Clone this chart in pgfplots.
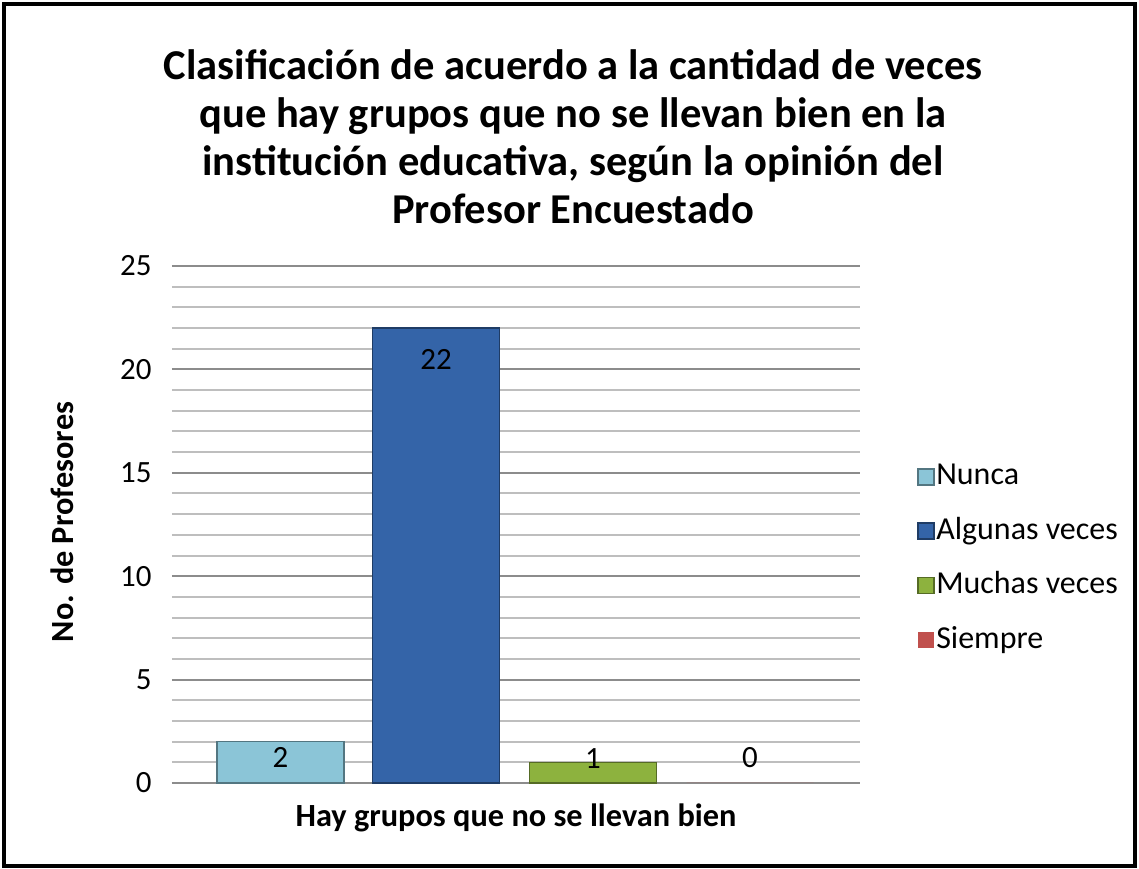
\documentclass[border=0pt]{standalone}
\usepackage{pgfplots}
\pgfplotsset{compat=1.18}
\usepackage{fontspec}
\setmainfont{Carlito}
\definecolor{cNunca}{RGB}{139,197,215}
\definecolor{cAlgunas}{RGB}{52,100,168}
\definecolor{cMuchas}{RGB}{141,178,62}
\definecolor{cSiempre}{RGB}{192,80,77}
\definecolor{gmaj}{RGB}{140,140,140}
\definecolor{gmin}{RGB}{190,190,190}
\begin{document}
\begin{tikzpicture}
\useasboundingbox (0,0) rectangle (113.9mm,86.9mm);
\draw[line width=0.4mm] (0.4mm,0.3mm) rectangle (113.5mm,86.5mm);
\node[font=\bfseries\fontsize{12.1}{13.66}\selectfont, align=center] at (57.3mm,73.2mm)
  {Clasificación de acuerdo a la cantidad de veces\\que hay grupos que no se llevan bien en la\\institución educativa, según la opinión del\\Profesor Encuestado};
\begin{axis}[
  at={(17.2mm,8.6mm)}, anchor=south west,
  scale only axis, width=68.8mm, height=51.7mm,
  ybar, bar shift=0pt, bar width=127,
  xmin=0, xmax=688, ymin=0, ymax=25,
  xtick=\empty, ytick={0,5,...,25},
  minor y tick num=4,
  ymajorgrids, yminorgrids,
  major grid style={gmaj, line width=0.2mm},
  minor grid style={gmin, line width=0.2mm},
  axis x line=bottom, axis y line=left,
  axis line style={-},
  x axis line style={gmaj, line width=0.25mm},
  y axis line style={draw=none},
  major tick length=0pt, minor tick length=0pt,
  tick label style={font=\fontsize{8.8}{10}\selectfont},
  yticklabel style={xshift=-0.8mm},
  /pgf/number format/assume math mode=true,
  xlabel={Hay grupos que no se llevan bien},
  ylabel={No. de Profesores},
  label style={font=\bfseries\fontsize{9.2}{11}\selectfont},
  xlabel style={at={(axis description cs:0.5,-0.068)}, anchor=center},
  ylabel style={at={(axis description cs:-0.16,0.505)}, anchor=center},
  legend style={at={(axis description cs:1.067,0.645)}, anchor=north west,
    draw=none, fill=none, font=\fontsize{9.1}{10.9}\selectfont,
    row sep=1.3mm, legend cell align=left,
    /tikz/every odd column/.append style={column sep=-0.55mm}},
  legend image code/.code={\fill[#1] (0mm,-0.8mm) rectangle (1.6mm,0.8mm);},
  nodes near coords,
  nodes near coords style={font=\fontsize{8.8}{10}\selectfont, anchor=center, text=black},
  clip=false,
]
\addplot[fill=cNunca, draw=cNunca!60!black, nodes near coords style={yshift=-1.6mm}]
  coordinates {(108.5,2)};
\addplot[fill=cAlgunas, draw=cAlgunas!60!black, nodes near coords style={yshift=-3.1mm}]
  coordinates {(264,22)};
\addplot[fill=cMuchas, draw=cMuchas!60!black, nodes near coords style={yshift=0.4mm}]
  coordinates {(421,1)};
\addplot[fill=cSiempre, draw=none, nodes near coords style={yshift=2.5mm}]
  coordinates {(578,0)};
\legend{Nunca, Algunas veces, Muchas veces, Siempre}
\end{axis}
\end{tikzpicture}
\end{document}
